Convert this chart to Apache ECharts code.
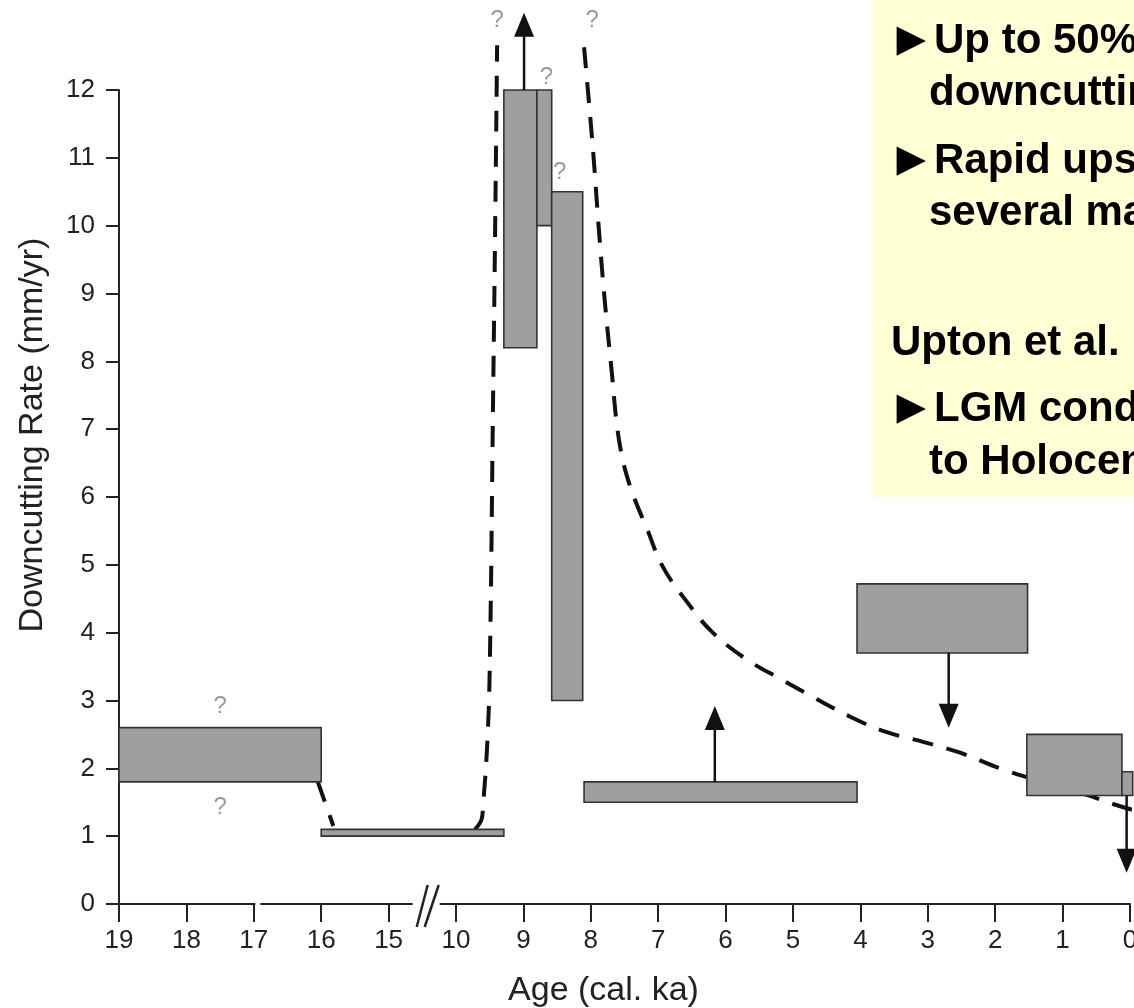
<!DOCTYPE html>
<html><head><meta charset="utf-8">
<script src="https://cdn.jsdelivr.net/npm/echarts@6/dist/echarts.min.js"></script>
<style>html,body{margin:0;padding:0;background:#fff;overflow:hidden}#c{width:1134px;height:1008px}</style>
</head><body><div id="c"></div>
<script>
// ---- data (ages in cal. ka, rates in mm/yr) ----
const tickAges = [19, 18, 17, 16, 15, 10, 9, 8, 7, 6, 5, 4, 3, 2, 1, 0];

const boxAgeStart = [19, 16, 9.29, 8.8, 8.58, 8.1, 4.05, 1.53, 0.12];
const boxAgeEnd   = [16, 9.29, 8.8, 8.58, 8.12, 4.05, 1.52, 0.12, -0.04];
const boxRateLow  = [1.8, 1.0, 8.2, 10.0, 3.0, 1.5, 3.7, 1.6, 1.6];
const boxRateHigh = [2.6, 1.1, 12.0, 12.0, 10.5, 1.8, 4.72, 2.5, 1.95];

const arrowAge  = [8.99, 6.16, 2.69, 0.05];
const arrowFrom = [12.0, 1.8, 3.7, 1.6];
const arrowTo   = [13.14, 2.92, 2.6, 0.46];

const stepAges  = [16.05, 15.82];
const stepRates = [1.8, 1.15];

const riseAges  = [9.72, 9.62, 9.6, 9.54, 9.5, 9.45, 9.42, 9.39];
const riseRates = [1.1, 1.25, 1.43, 2.29, 3.43, 7.43, 9.89, 12.66];

const decayAges  = [8.10, 7.97, 7.88, 7.79, 7.68, 7.62, 7.55, 7.47, 7.36, 7.17, 6.93, 6.57, 6.19, 5.68, 5.19, 4.70, 4.15, 3.63, 3.07, 2.52, 1.93, 1.53, 0.64, 0.30, -0.03];
const decayRates = [12.63, 11.15, 9.94, 8.86, 7.75, 7.12, 6.66, 6.33, 6.0, 5.54, 4.97, 4.45, 4.0, 3.6, 3.32, 3.05, 2.76, 2.54, 2.39, 2.23, 2.0, 1.87, 1.61, 1.49, 1.39];

const qAges  = [17.5, 17.5, 9.39, 8.66, 8.46, 7.98];
const qRates = [2.92, 1.43, 13.03, 12.19, 10.79, 13.03];

const breakAt = 4.58;   // axis position of the // break between 15 and 10
const gapAt = 2.06;     // small gap in the axis line after 17

const noteLines = [
  {bullet: true,  text: 'Up to 50%',     y: 41},
  {bullet: false, text: 'downcuttin',    y: 93},
  {bullet: true,  text: 'Rapid ups',     y: 161},
  {bullet: false, text: 'several ma',    y: 213},
  {head: true,    text: 'Upton et al.',  y: 343},
  {bullet: true,  text: 'LGM cond',      y: 409},
  {bullet: false, text: 'to Holocen',    y: 462}
];

// ---- helpers ----
const FONT = "'Liberation Sans', Arial, Helvetica, sans-serif";
const INK = '#222';
function pos(age) {
  if (age >= 15) return 19 - age;
  if (age <= 10) return 15 - age;
  return 4 + (15 - age) / 5;
}

const boxData = boxAgeStart.map((a, i) => [pos(a), pos(boxAgeEnd[i]), boxRateLow[i], boxRateHigh[i]]);
const arrowData = arrowAge.map((a, i) => [pos(a), arrowFrom[i], arrowTo[i]]);
const stepData = stepAges.map((a, i) => [pos(a), stepRates[i]]);
const riseData = riseAges.map((a, i) => [pos(a), riseRates[i]]);
const decayData = decayAges.map((a, i) => [pos(a), decayRates[i]]);
const qData = qAges.map((a, i) => [pos(a), qRates[i]]);

const dashStyle = {color: '#111', width: 4, type: [21, 14], cap: 'butt'};
function dashed(name, data) {
  return {
    name, type: 'line', data, clip: false, symbol: 'none', smooth: 0.4, z: 2,
    lineStyle: dashStyle, silent: true, animation: false
  };
}

const graphics = [{
  type: 'rect', left: 872, top: 0, z: 10,
  shape: {width: 262, height: 497}, style: {fill: '#ffffd6'}
}];
noteLines.forEach(l => {
  const font = 'bold 42px ' + FONT;
  if (l.bullet) {
    graphics.push({type: 'text', x: 887, y: l.y, z: 11,
      style: {text: '►', font: 'bold 49px ' + FONT, fill: '#000', verticalAlign: 'middle', align: 'left'}});
    graphics.push({type: 'text', x: 934, y: l.y, z: 11,
      style: {text: l.text, font, fill: '#000', verticalAlign: 'middle', align: 'left'}});
  } else if (l.head) {
    graphics.push({type: 'text', x: 891, y: l.y, z: 11,
      style: {text: l.text, font, fill: '#000', verticalAlign: 'middle', align: 'left'}});
  } else {
    graphics.push({type: 'text', x: 929, y: l.y, z: 11,
      style: {text: l.text, font, fill: '#000', verticalAlign: 'middle', align: 'left'}});
  }
});

const chart = echarts.init(document.getElementById('c'), null, {renderer: 'canvas'});
chart.setOption({
  animation: false,
  backgroundColor: '#fff',
  grid: {left: 119, right: 4, top: 90, bottom: 104, outerBoundsMode: 'none'},
  xAxis: {
    type: 'value', min: 0, max: 15, interval: 1,
    name: 'Age (cal. ka)', nameLocation: 'middle', nameGap: 70,
    nameTextStyle: {fontFamily: FONT, fontSize: 34, color: INK, padding: [0, 42, 0, 0]},
    axisLine: {show: true, onZero: false, lineStyle: {color: INK, width: 2}},
    axisTick: {show: true, length: 18, lineStyle: {color: INK, width: 2}},
    axisLabel: {
      fontFamily: FONT, fontSize: 26, color: INK, margin: 24, hideOverlap: false,
      formatter: v => { const i = Math.round(v); return (i >= 0 && i < tickAges.length) ? String(tickAges[i]) : ''; }
    },
    splitLine: {show: false}
  },
  yAxis: {
    type: 'value', min: 0, max: 12, interval: 1,
    name: 'Downcutting Rate (mm/yr)', nameLocation: 'middle', nameGap: 69,
    nameTextStyle: {fontFamily: FONT, fontSize: 34, color: INK, padding: [0, 0, 0, 124]},
    axisLine: {show: true, lineStyle: {color: INK, width: 2}},
    axisTick: {show: true, length: 13, lineStyle: {color: INK, width: 2}},
    axisLabel: {fontFamily: FONT, fontSize: 26, color: INK, margin: 24},
    splitLine: {show: false}
  },
  graphic: graphics,
  series: [
    dashed('step', stepData),
    dashed('rise', riseData),
    dashed('decay', decayData),
    {
      name: 'boxes', type: 'custom', z: 3, clip: false, silent: true,
      data: boxData,
      renderItem(params, api) {
        const a = api.coord([api.value(0), api.value(3)]);
        const b = api.coord([api.value(1), api.value(2)]);
        const x = Math.min(a[0], b[0]), y = Math.min(a[1], b[1]);
        return {
          type: 'rect',
          shape: {x, y, width: Math.abs(b[0] - a[0]), height: Math.abs(b[1] - a[1])},
          style: {fill: '#9f9f9f', stroke: '#333', lineWidth: 1.6}
        };
      }
    },
    {
      name: 'arrows', type: 'custom', z: 4, clip: false, silent: true,
      data: arrowData,
      renderItem(params, api) {
        const p0 = api.coord([api.value(0), api.value(1)]);
        const p1 = api.coord([api.value(0), api.value(2)]);
        const dir = p1[1] < p0[1] ? -1 : 1;
        const headLen = 24, half = 10;
        const base = p1[1] - dir * headLen;
        return {
          type: 'group',
          children: [
            {type: 'line', shape: {x1: p0[0], y1: p0[1], x2: p0[0], y2: base + dir * 2},
              style: {stroke: '#111', lineWidth: 2.5}},
            {type: 'polygon', shape: {points: [[p1[0], p1[1]], [p1[0] - half, base], [p1[0] + half, base]]},
              style: {fill: '#111'}}
          ]
        };
      }
    },
    {
      name: 'question', type: 'custom', z: 4, clip: false, silent: true,
      data: qData,
      renderItem(params, api) {
        const p = api.coord([api.value(0), api.value(1)]);
        return {type: 'text', x: p[0], y: p[1],
          style: {text: '?', font: '24px ' + FONT, fill: '#9a9a9a', align: 'center', verticalAlign: 'middle'}};
      }
    },
    {
      name: 'axisBreak', type: 'custom', z: 5, clip: false, silent: true,
      data: [[breakAt, 0]],
      renderItem(params, api) {
        const c = api.coord([api.value(0), api.value(1)]);
        const cx = c[0], cy = c[1];
        return {
          type: 'group',
          children: [
            {type: 'rect', shape: {x: cx - 15, y: cy - 4, width: 27, height: 8}, style: {fill: '#fff'}},
            {type: 'line', shape: {x1: cx - 11, y1: cy + 23, x2: cx, y2: cy - 19}, style: {stroke: INK, lineWidth: 2.5}},
            {type: 'line', shape: {x1: cx - 3, y1: cy + 23, x2: cx + 11, y2: cy - 19}, style: {stroke: INK, lineWidth: 2.5}}
          ]
        };
      }
    },
    {
      name: 'axisGap', type: 'custom', z: 5, clip: false, silent: true,
      data: [[gapAt, 0]],
      renderItem(params, api) {
        const c = api.coord([api.value(0), api.value(1)]);
        return {type: 'rect', shape: {x: c[0] - 2.5, y: c[1] - 3, width: 5, height: 6}, style: {fill: '#fff'}};
      }
    }
  ]
});
</script>
</body></html>
